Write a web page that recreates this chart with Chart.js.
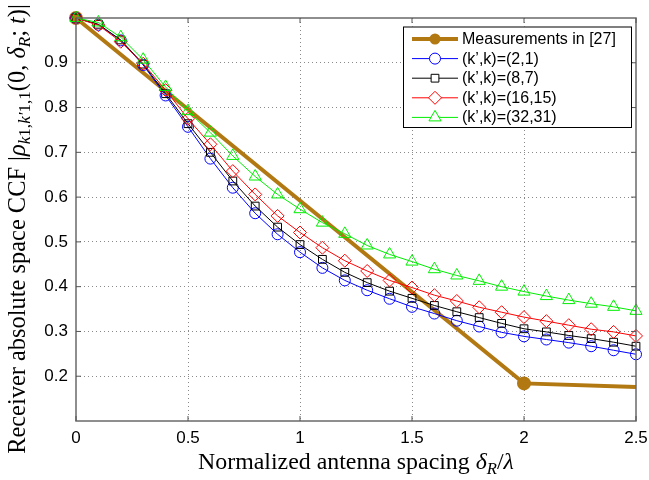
<!DOCTYPE html>
<html><head><meta charset="utf-8">
<script src="https://cdn.jsdelivr.net/npm/chart.js@4/dist/chart.umd.min.js"></script>
<style>html,body{margin:0;padding:0;background:#fff}#wrap{width:649px;height:480px}</style>
</head><body><div id="wrap"><canvas id="c" width="649" height="480"></canvas></div>
<script>
// ---- data ----
const spacing = [0,0.1,0.2,0.3,0.4,0.5,0.6,0.7,0.8,0.9,1.0,1.1,1.2,1.3,1.4,1.5,1.6,1.7,1.8,1.9,2.0,2.1,2.2,2.3,2.4,2.5];
const measX = [0, 2.0, 2.5];
const measY = [1.0, 0.184, 0.176];
const ccf_2_1   = [1.0,0.985,0.950,0.895,0.827,0.757,0.686,0.621,0.564,0.517,0.477,0.442,0.414,0.392,0.373,0.355,0.340,0.324,0.311,0.298,0.289,0.282,0.275,0.267,0.258,0.249];
const ccf_8_7   = [1.0,0.986,0.951,0.897,0.831,0.764,0.700,0.636,0.580,0.533,0.494,0.461,0.432,0.409,0.390,0.374,0.358,0.344,0.331,0.318,0.306,0.299,0.291,0.284,0.276,0.267];
const ccf_16_15 = [1.0,0.984,0.947,0.898,0.839,0.775,0.718,0.658,0.606,0.558,0.521,0.487,0.458,0.435,0.414,0.398,0.381,0.368,0.354,0.343,0.332,0.323,0.314,0.305,0.299,0.290];
const ccf_32_31 = [1.0,0.990,0.957,0.907,0.846,0.792,0.744,0.692,0.646,0.606,0.573,0.543,0.518,0.492,0.472,0.456,0.439,0.425,0.413,0.400,0.389,0.379,0.370,0.362,0.355,0.346];
const seriesLabels = ['Measurements in [27]', '(k\u2019,k)=(2,1)', '(k\u2019,k)=(8,7)', '(k\u2019,k)=(16,15)', '(k\u2019,k)=(32,31)'];
const xTickValues = [0,0.5,1,1.5,2,2.5];
const xTickLabels = ['0','0.5','1','1.5','2','2.5'];
const yTickValues = [0.2,0.3,0.4,0.5,0.6,0.7,0.8,0.9];
const yTickLabels = ['0.2','0.3','0.4','0.5','0.6','0.7','0.8','0.9'];

// ---- styling ----
const BROWN = '#b27812';
const SANS = '"Liberation Sans", Arial, sans-serif';
const SERIF = '"Liberation Serif", "DejaVu Serif", serif';

function pts(xs, ys){ return xs.map((x,i)=>({x:x, y:ys[i]})); }
function simSet(label, ys, color, style, radius, order){
  return {label, data: pts(spacing, ys), borderColor: color, backgroundColor: 'rgba(0,0,0,0)',
    borderWidth: 1, pointStyle: style, pointRadius: radius, pointBorderColor: color,
    pointBackgroundColor: 'rgba(0,0,0,0)', pointBorderWidth: 1, pointHoverRadius: radius,
    tension: 0, clip: false, order};
}
const datasets = [
  {label: seriesLabels[0], data: pts(measX, measY), borderColor: BROWN, backgroundColor: BROWN,
   borderWidth: 4, pointStyle: 'circle', pointRadius: c => (c.dataIndex < 2 ? 5 : 0),
   pointBackgroundColor: BROWN, pointBorderColor: BROWN, tension: 0, clip: false, order: 10},
  simSet(seriesLabels[1], ccf_2_1, '#0000ff', 'circle', 5.5, 4),
  simSet(seriesLabels[2], ccf_8_7, '#000000', 'rect', 5.5, 3),
  simSet(seriesLabels[3], ccf_16_15, '#ff0000', 'rectRot', 6.5, 2),
  simSet(seriesLabels[4], ccf_32_31, '#00ee00', 'triangle', 7, 1),
];

function near(list, v){ return list.findIndex(t => Math.abs(t - v) < 1e-6); }

function marker(ctx, style, r, x, y){
  ctx.beginPath();
  if (style === 'circle') { ctx.arc(x, y, r, 0, Math.PI*2); }
  else if (style === 'rect') { const s = r*Math.SQRT1_2; ctx.rect(x-s, y-s, 2*s, 2*s); }
  else if (style === 'rectRot') { ctx.moveTo(x, y-r); ctx.lineTo(x+r, y); ctx.lineTo(x, y+r); ctx.lineTo(x-r, y); ctx.closePath(); }
  else if (style === 'triangle') {
    for (let k=0;k<3;k++){ const a = -Math.PI/2 + k*2*Math.PI/3; const px = x + r*Math.cos(a), py = y + r*Math.sin(a); if(k===0) ctx.moveTo(px,py); else ctx.lineTo(px,py);} ctx.closePath(); }
}

function richWidth(ctx, parts, size, family){
  let w = 0;
  parts.forEach(p => { ctx.font = (p.it?'italic ':'') + (p.sub? size*0.7 : size) + 'px ' + family; w += ctx.measureText(p.t).width; });
  return w;
}
function drawRich(ctx, parts, cx, base, size, family){
  const total = richWidth(ctx, parts, size, family);
  let x = cx - total/2;
  ctx.textAlign = 'left'; ctx.textBaseline = 'alphabetic';
  parts.forEach(p => {
    ctx.font = (p.it?'italic ':'') + (p.sub? size*0.7 : size) + 'px ' + family;
    ctx.fillText(p.t, x, base + (p.sub ? size*0.22 : 0));
    x += ctx.measureText(p.t).width;
  });
}
function fitSize(ctx, parts, target, family){ return 20 * target / richWidth(ctx, parts, 20, family); }

const xTitle = [{t:'Normalized antenna spacing '},{t:'\u03B4',it:1},{t:'R',it:1,sub:1},{t:'/'},{t:'\u03BB',it:1}];
const yTitle = [{t:'Receiver absolute space CCF |'},{t:'\u03C1',it:1},{t:'k',it:1,sub:1},{t:'1,',sub:1},{t:'k\u2032',it:1,sub:1},{t:'1,1',sub:1},
  {t:'(0, '},{t:'\u03B4',it:1},{t:'R',it:1,sub:1},{t:'; '},{t:'t',it:1},{t:')|'}];

const decor = {
  id: 'decor',
  afterDatasetsDraw(chart){
    const ctx = chart.ctx, a = chart.chartArea, xs = chart.scales.x, ys = chart.scales.y;
    ctx.save();
    ctx.strokeStyle = '#6a6a6a'; ctx.lineWidth = 1.5;
    ctx.strokeRect(a.left, a.top, a.right - a.left, a.bottom - a.top);
    ctx.lineWidth = 1; ctx.strokeStyle = '#555';
    ctx.beginPath();
    xTickValues.forEach(v => { const px = xs.getPixelForValue(v);
      ctx.moveTo(px, a.bottom); ctx.lineTo(px, a.bottom - 5);
      ctx.moveTo(px, a.top); ctx.lineTo(px, a.top + 5); });
    yTickValues.forEach(v => { const py = ys.getPixelForValue(v);
      ctx.moveTo(a.left, py); ctx.lineTo(a.left + 5, py);
      ctx.moveTo(a.right, py); ctx.lineTo(a.right - 5, py); });
    ctx.stroke();
    ctx.restore();
  },
  afterDraw(chart){
    const ctx = chart.ctx, a = chart.chartArea;
    ctx.save();
    ctx.fillStyle = '#000';
    const xs = fitSize(ctx, xTitle, 316, SERIF);
    drawRich(ctx, xTitle, (a.left + a.right)/2, 469, xs, SERIF);
    const ysz = fitSize(ctx, yTitle, 450, SERIF);
    ctx.translate(25, 229); ctx.rotate(-Math.PI/2);
    drawRich(ctx, yTitle, 0, 0, ysz, SERIF);
    ctx.restore();
    // legend
    ctx.save();
    const W = 229, H = 101.5, L = a.right - 4 - W, T = a.top + 8.5;
    ctx.fillStyle = '#fff'; ctx.fillRect(L, T, W, H);
    ctx.strokeStyle = '#000'; ctx.lineWidth = 1; ctx.strokeRect(L + 0.5, T + 0.5, W - 1, H - 1);
    ctx.font = '16px ' + SANS; ctx.textBaseline = 'middle'; ctx.textAlign = 'left';
    chart.data.datasets.forEach((ds, i) => {
      const y = T + 12.5 + 19.6*i;
      ctx.strokeStyle = ds.borderColor; ctx.lineWidth = ds.borderWidth;
      ctx.beginPath(); ctx.moveTo(L + 9, y); ctx.lineTo(L + 55, y); ctx.stroke();
      const r = i === 0 ? 5.5 : ds.pointRadius;
      marker(ctx, ds.pointStyle, r, L + 32, y);
      if (i === 0) { ctx.fillStyle = BROWN; ctx.fill(); }
      else { ctx.fillStyle = '#fff'; ctx.fill(); ctx.lineWidth = 1; ctx.stroke(); }
      ctx.fillStyle = '#000';
      ctx.fillText(ds.label, L + 59, y + 0.5);
    });
    ctx.restore();
  }
};

new Chart(document.getElementById('c'), {
  type: 'line',
  data: { datasets },
  plugins: [decor],
  options: {
    responsive: false, animation: false,
    layout: { padding: { left: 0, right: 13, top: 18, bottom: 0 } },
    plugins: { legend: { display: false }, tooltip: { enabled: false }, title: { display: false } },
    scales: {
      x: {
        type: 'linear', min: 0, max: 2.5,
        afterFit: s => { s.height = 59; s.paddingLeft = 0; s.paddingRight = 0; },
        afterBuildTicks: s => { s.ticks = xTickValues.map(v => ({value: v})); },
        ticks: { autoSkip: false, maxRotation: 0, padding: 7, color: '#000', font: { family: SANS, size: 17 },
          callback: v => { const i = near(xTickValues, v); return i >= 0 ? xTickLabels[i] : ''; } },
        grid: { drawTicks: false, lineWidth: 1,
          color: c => (c.tick && c.tick.value > 0.01 && c.tick.value < 2.49 ? '#8a8a8a' : 'rgba(0,0,0,0)') },
        border: { display: false, dash: [1, 3] }
      },
      y: {
        type: 'linear', min: 0.1, max: 1.0,
        afterFit: s => { s.width = 76; s.paddingTop = 0; s.paddingBottom = 0; },
        afterBuildTicks: s => { s.ticks = yTickValues.map(v => ({value: v})); },
        ticks: { autoSkip: false, padding: 8, color: '#000', font: { family: SANS, size: 17 },
          callback: v => { const i = near(yTickValues, v); return i >= 0 ? yTickLabels[i] : ''; } },
        grid: { drawTicks: false, lineWidth: 1, color: '#8a8a8a' },
        border: { display: false, dash: [1, 3] }
      }
    }
  }
});
</script>
</body></html>
